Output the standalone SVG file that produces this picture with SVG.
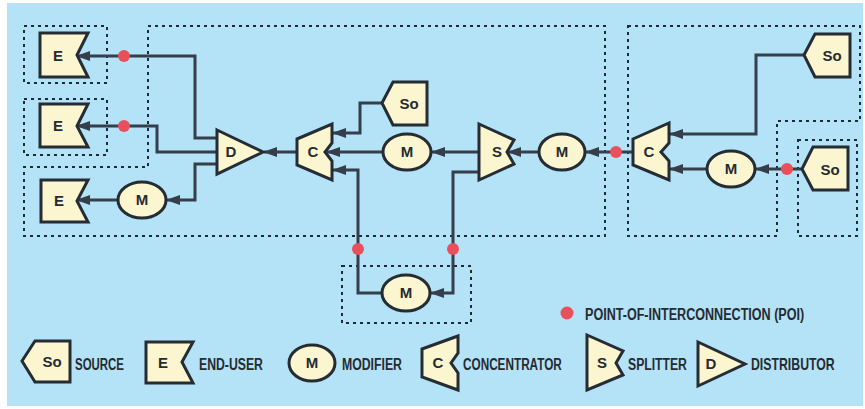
<svg xmlns="http://www.w3.org/2000/svg" width="865" height="409" viewBox="0 0 865 409">
<defs>
<marker id="ah" viewBox="0 0 14 10" refX="13" refY="5" markerWidth="14" markerHeight="10" orient="auto" markerUnits="userSpaceOnUse"><path d="M0,0 L14,5 L0,10 z" fill="#343f4b"/></marker>
<style>
.bg{fill:#b4e2f6}
.zone{fill:none;stroke:#1f2a36;stroke-width:2;stroke-dasharray:3 4}
.n{fill:#fcf6d0;stroke:#252c33;stroke-width:3;stroke-linejoin:miter}
.c{fill:none;stroke:#343f4b;stroke-width:3;marker-end:url(#ah)}
.poi{fill:#e9505c}
.t{font-family:"Liberation Sans",Arial,sans-serif;font-weight:bold;font-size:15px;fill:#262b31;text-anchor:middle}
.lg{font-family:"Liberation Sans",Arial,sans-serif;font-weight:bold;font-size:17px;fill:#262b31}
.lp{font-family:"Liberation Sans",Arial,sans-serif;font-weight:bold;font-size:16px;fill:#262b31}
</style>
</defs>
<rect x="0" y="0" width="865" height="409" fill="#ffffff"/>
<rect class="bg" x="7" y="3" width="856" height="403"/>

<g id="zones">
<rect class="zone" x="24" y="26" width="83" height="57"/>
<rect class="zone" x="24" y="99" width="83" height="56"/>
<path class="zone" d="M148,26 H605 V236 H24 V167 H148 Z"/>
<path class="zone" d="M628,26 H860 V121 H777 V236 H628 Z"/>
<rect class="zone" x="798" y="140" width="59" height="96"/>
<rect class="zone" x="342" y="266" width="129" height="57"/>
</g>

<g id="connectors">
<path class="c" d="M217,138 H195 V56 H77"/>
<path class="c" d="M217,152 H157 V126 H77"/>
<path class="c" d="M217,164 H195 V200 H167"/>
<path class="c" d="M118,200 H77"/>
<path class="c" d="M297,152 H264"/>
<path class="c" d="M383,152 H327"/>
<path class="c" d="M382,103 H360 V133 H333"/>
<path class="c" d="M382,293 H358 V170 H333"/>
<path class="c" d="M479,172 H453 V293 H431"/>
<path class="c" d="M479,152 H432"/>
<path class="c" d="M539,152 H508"/>
<path class="c" d="M633,152 H586"/>
<path class="c" d="M804,55 H756 V134 H670"/>
<path class="c" d="M707,169 H670"/>
<path class="c" d="M802,169 H756"/>
</g>

<g id="pois">
<circle class="poi" cx="124" cy="56" r="6"/>
<circle class="poi" cx="124" cy="126" r="6"/>
<circle class="poi" cx="358" cy="249" r="6"/>
<circle class="poi" cx="453" cy="249" r="6"/>
<circle class="poi" cx="616" cy="152" r="6"/>
<circle class="poi" cx="787" cy="169" r="6"/>
</g>

<g id="e1"><polygon class="n" points="40,33 88,33 77,55 88,77 40,77"/><text class="t" x="58" y="61">E</text></g>
<g id="e2"><polygon class="n" points="40,104 88,104 77,126 88,147 40,147"/><text class="t" x="58" y="131">E</text></g>
<g id="e3"><polygon class="n" points="41,180 88,180 77,201 88,222 41,222"/><text class="t" x="59" y="206">E</text></g>
<g id="m1"><ellipse class="n" cx="142" cy="200" rx="24" ry="18"/><text class="t" x="142" y="205">M</text></g>
<g id="d"><polygon class="n" points="217,130 263,152 217,174"/><text class="t" x="231" y="157">D</text></g>
<g id="c1"><polygon class="n" points="297,139 332,124 332,143 325,152 332,161 332,180 297,165"/><text class="t" x="313" y="157">C</text></g>
<g id="so1"><polygon class="n" points="382,103 393,82 427,82 427,125 393,125"/><text class="t" x="409" y="109">So</text></g>
<g id="m2"><ellipse class="n" cx="407" cy="152" rx="24" ry="18"/><text class="t" x="407" y="157">M</text></g>
<g id="s"><polygon class="n" points="479,124 514,140 507,152 514,164 479,180"/><text class="t" x="497" y="157">S</text></g>
<g id="m3"><ellipse class="n" cx="562" cy="152" rx="23" ry="18"/><text class="t" x="562" y="157">M</text></g>
<g id="m4"><ellipse class="n" cx="406" cy="293" rx="24" ry="18"/><text class="t" x="406" y="298">M</text></g>
<g id="c2"><polygon class="n" points="633,139 669,123 669,143 661,152 669,161 669,180 633,165"/><text class="t" x="649" y="157">C</text></g>
<g id="m5"><ellipse class="n" cx="731" cy="169" rx="24" ry="18"/><text class="t" x="731" y="174">M</text></g>
<g id="so2"><polygon class="n" points="804,55 815,34 850,34 850,77 815,77"/><text class="t" x="832" y="61">So</text></g>
<g id="so3"><polygon class="n" points="802,169 813,147 848,147 848,190 813,190"/><text class="t" x="830" y="175">So</text></g>

<g id="legend">
<circle class="poi" cx="567" cy="313" r="6.5"/>
<text class="lp" transform="translate(585,320) scale(0.786,1)">POINT-OF-INTERCONNECTION (POI)</text>
<polygon class="n" points="22,361 35,341 70,341 70,382 35,382"/><text class="t" x="52" y="367">So</text>
<text class="lg" transform="translate(75,370) scale(0.674,1)">SOURCE</text>
<polygon class="n" points="146,342 193,342 182,362 193,383 146,383"/><text class="t" x="163" y="368">E</text>
<text class="lg" transform="translate(199,370) scale(0.721,1)">END-USER</text>
<ellipse class="n" cx="312" cy="363" rx="23" ry="18"/><text class="t" x="312" y="368">M</text>
<text class="lg" transform="translate(342,370) scale(0.722,1)">MODIFIER</text>
<polygon class="n" points="422,349 458,336 458,353 451,363 458,373 458,390 422,377"/><text class="t" x="438" y="368">C</text>
<text class="lg" transform="translate(463,370) scale(0.692,1)">CONCENTRATOR</text>
<polygon class="n" points="587,335 623,351 616,363 623,375 587,390"/><text class="t" x="602" y="368">S</text>
<text class="lg" transform="translate(628,370) scale(0.718,1)">SPLITTER</text>
<polygon class="n" points="698,342 745,364 698,386"/><text class="t" x="711" y="369">D</text>
<text class="lg" transform="translate(751,370) scale(0.723,1)">DISTRIBUTOR</text>
</g>
</svg>
